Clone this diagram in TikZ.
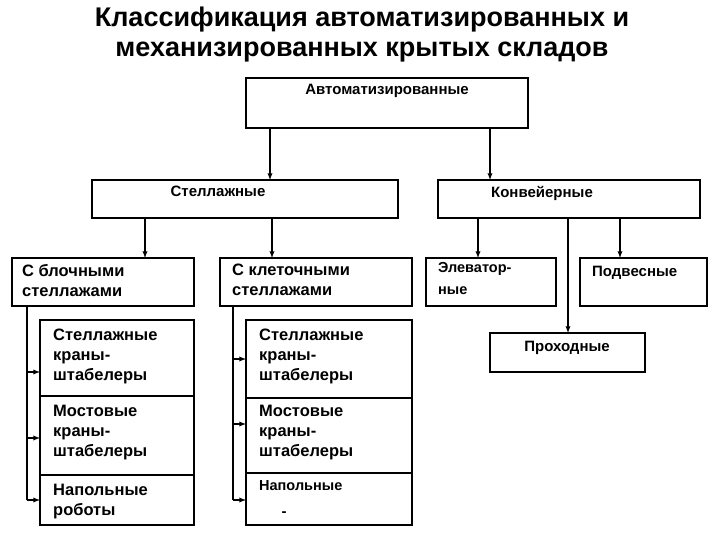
\documentclass[tikz,border=0pt]{standalone}
\usepackage{fontspec}
\setmainfont{Liberation Sans}
\begin{document}
\begin{tikzpicture}[x=1pt,y=-1pt,
  box/.style={draw,line width=1.4pt},
  lbl/.style={anchor=north west,align=left,font=\bfseries\fontsize{16.5}{20}\selectfont,inner sep=0pt},
  clbl/.style={anchor=north,font=\bfseries\fontsize{15}{17}\selectfont,inner sep=0pt},
  arr/.style={line width=1.3pt,-latex}]
\useasboundingbox (0,0) rectangle (720,540);
\node[font=\bfseries\fontsize{27}{30}\selectfont,align=center] (title) at (362,35) {Классификация автоматизированных и\\механизированных крытых складов};
\draw[box] (246,78) rectangle (528,128); \node[clbl] (ta) at (387,84) {Автоматизированные};
\draw[box] (92,180) rectangle (398,218); \node[clbl] (ts) at (218,186) {Стеллажные};
\draw[box] (438,180) rectangle (700,218); \node[clbl] (tk) at (542,186) {Конвейерные};
\draw[arr] (270,128) -- (270,180);
\draw[arr] (490,128) -- (490,180);
\draw[box] (12,258) rectangle (194,306); \node[lbl] (b1) at (22,264) {С блочными\\стеллажами};
\draw[box] (220,258) rectangle (412,306); \node[lbl] (b2) at (232,264) {С клеточными\\стеллажами};
\draw[arr] (145,218) -- (145,258);
\draw[arr] (272,218) -- (272,258);
\draw[box] (426,258) rectangle (556,306); \node[lbl,font=\bfseries\fontsize{14.5}{22}\selectfont] (e) at (438,262) {Элеватор-\\ные};
\draw[box] (580,258) rectangle (707,306); \node[lbl,font=\bfseries\fontsize{15}{17}\selectfont] (p) at (592,266) {Подвесные};
\draw[box] (490,333) rectangle (645,372); \node[clbl] (pr) at (567,341) {Проходные};
\draw[arr] (478,218) -- (478,258);
\draw[arr] (620,218) -- (620,258);
\draw[arr] (568,218) -- (568,333);
% left stack
\draw[box] (40,320) rectangle (194,525);
\draw[line width=1.4pt] (40,396) -- (194,396) (40,475) -- (194,475);
\node[lbl] (l1) at (53,329) {Стеллажные\\краны-\\штабелеры};
\node[lbl] (l2) at (53,405) {Мостовые\\краны-\\штабелеры};
\node[lbl] (l3) at (53,484) {Напольные\\роботы};
\draw[line width=1.3pt] (27,306) -- (27,500);
\draw[arr] (27,372) -- (40,372);
\draw[arr] (27,438) -- (40,438);
\draw[arr] (27,500) -- (40,500);
% right stack
\draw[box] (246,320) rectangle (412,525);
\draw[line width=1.4pt] (246,398) -- (412,398) (246,473) -- (412,473);
\node[lbl] (r1) at (259,329) {Стеллажные\\краны-\\штабелеры};
\node[lbl] (r2) at (259,405) {Мостовые\\краны-\\штабелеры};
\node[lbl,font=\bfseries\fontsize{14.5}{17}\selectfont] (r3) at (259,480) {Напольные};
\node[inner sep=0pt,font=\bfseries\fontsize{15}{17}\selectfont] (dash) at (284,514) {-};
\draw[line width=1.3pt] (233,306) -- (233,500);
\draw[arr] (233,359) -- (246,359);
\draw[arr] (233,424) -- (246,424);
\draw[arr] (233,500) -- (246,500);
\end{tikzpicture}
\end{document}
